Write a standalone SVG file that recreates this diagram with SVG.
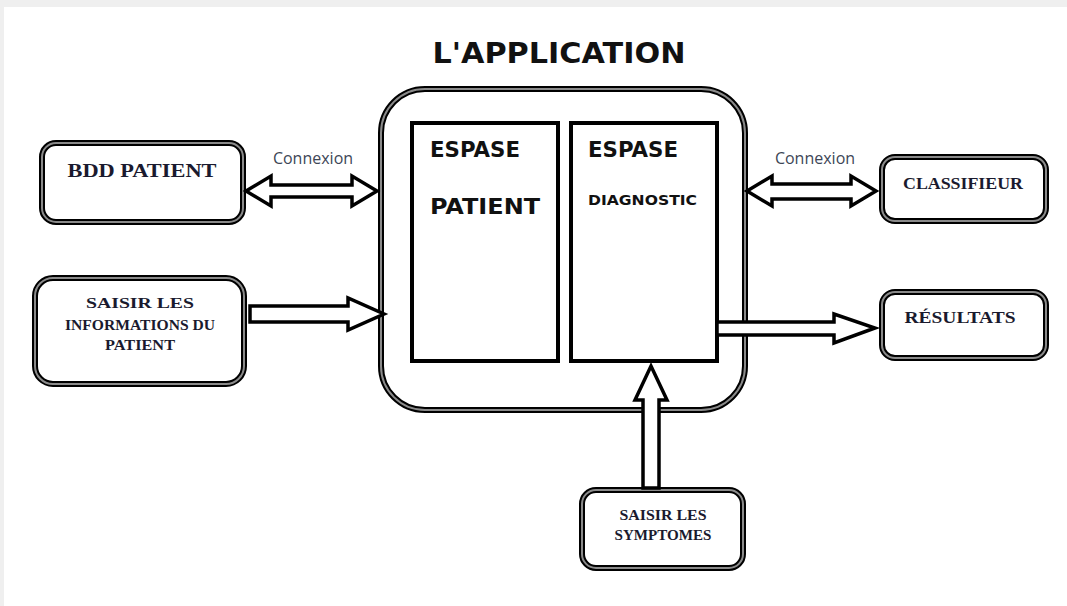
<svg xmlns="http://www.w3.org/2000/svg" width="1067" height="606" viewBox="0 0 1067 606">
<style>
.ob{fill:#fff;stroke:#000;stroke-width:6}
.ib{fill:none;stroke:#8a8a8a;stroke-width:2}
.lbl{font-family:"Liberation Serif",serif;font-weight:bold;fill:#1a1a2e;text-anchor:middle}
.cap{font-family:"DejaVu Sans",sans-serif;font-weight:bold;fill:#111}
.cx{font-family:"Open Sans","Liberation Sans",sans-serif;font-size:16px;fill:#3d4656}
.arr{fill:#fff;stroke:#000;stroke-width:3.5;stroke-linejoin:miter}
.inner{fill:#fff;stroke:#000;stroke-width:4}
</style>
<rect x="0" y="0" width="1067" height="606" fill="#fff"/>
<rect x="0" y="0" width="1067" height="7" fill="#efefef"/>
<rect x="0" y="0" width="4" height="606" fill="#efefef"/>

<text class="cap" x="559" y="63" font-size="28" text-anchor="middle" textLength="253" lengthAdjust="spacingAndGlyphs">L'APPLICATION</text>

<g id="app">
<rect class="ob" x="381" y="89" width="364" height="321" rx="44"/>
<rect class="ib" x="381" y="89" width="364" height="321" rx="44"/>
<rect class="inner" x="412" y="123" width="146" height="238"/>
<rect class="inner" x="571" y="123" width="146" height="238"/>
<text class="cap" x="430" y="157" font-size="22" textLength="90" lengthAdjust="spacingAndGlyphs">ESPASE</text>
<text class="cap" x="430" y="214" font-size="22" textLength="110" lengthAdjust="spacingAndGlyphs">PATIENT</text>
<text class="cap" x="588" y="157" font-size="22" textLength="90" lengthAdjust="spacingAndGlyphs">ESPASE</text>
<text class="cap" x="588" y="205" font-size="14" textLength="109" lengthAdjust="spacingAndGlyphs">DIAGNOSTIC</text>
</g>

<g id="bdd">
<rect class="ob" x="42" y="143" width="201" height="79" rx="14"/>
<rect class="ib" x="42" y="143" width="201" height="79" rx="14"/>
<text class="lbl" x="142" y="177" font-size="19" textLength="149" lengthAdjust="spacingAndGlyphs">BDD PATIENT</text>
</g>

<g id="saisir-info">
<rect class="ob" x="35" y="278" width="209" height="106" rx="18"/>
<rect class="ib" x="35" y="278" width="209" height="106" rx="18"/>
<text class="lbl" x="140" y="308" font-size="15" textLength="108" lengthAdjust="spacingAndGlyphs">SAISIR LES</text>
<text class="lbl" x="140" y="330" font-size="15" textLength="150" lengthAdjust="spacingAndGlyphs">INFORMATIONS DU</text>
<text class="lbl" x="140" y="350" font-size="15" textLength="70" lengthAdjust="spacingAndGlyphs">PATIENT</text>
</g>

<g id="classifieur">
<rect class="ob" x="882" y="157" width="164" height="64" rx="13"/>
<rect class="ib" x="882" y="157" width="164" height="64" rx="13"/>
<text class="lbl" x="963" y="189" font-size="16" textLength="120" lengthAdjust="spacingAndGlyphs">CLASSIFIEUR</text>
</g>

<g id="resultats">
<rect class="ob" x="882" y="292" width="164" height="66" rx="13"/>
<rect class="ib" x="882" y="292" width="164" height="66" rx="13"/>
<text class="lbl" x="960" y="323" font-size="16" textLength="111" lengthAdjust="spacingAndGlyphs">RÉSULTATS</text>
</g>

<g id="saisir-symptomes">
<rect class="ob" x="582" y="490" width="161" height="78" rx="14"/>
<rect class="ib" x="582" y="490" width="161" height="78" rx="14"/>
<text class="lbl" x="663" y="520" font-size="15" textLength="87" lengthAdjust="spacingAndGlyphs">SAISIR LES</text>
<text class="lbl" x="663" y="540" font-size="15" textLength="97" lengthAdjust="spacingAndGlyphs">SYMPTOMES</text>
</g>

<g id="connectors">
<polygon class="arr" points="246,191 271,176 271,185 352,185 352,176 377,191 352,206 352,197 271,197 271,206"/>
<polygon class="arr" points="747,191 772,176 772,184 851,184 851,176 876,191 851,206 851,199 772,199 772,206"/>
<polygon class="arr" points="250,306 348,306 348,298 384,314 348,330 348,322 250,322"/>
<polygon class="arr" points="717,322 834,322 834,314 875,328 834,343 834,335 717,335"/>
<polygon class="arr" points="643,488 643,400 635,400 651,366 667,400 659,400 659,488"/>
<text class="cx" x="313" y="164" text-anchor="middle">Connexion</text>
<text class="cx" x="815" y="164" text-anchor="middle">Connexion</text>
</g>
</svg>
